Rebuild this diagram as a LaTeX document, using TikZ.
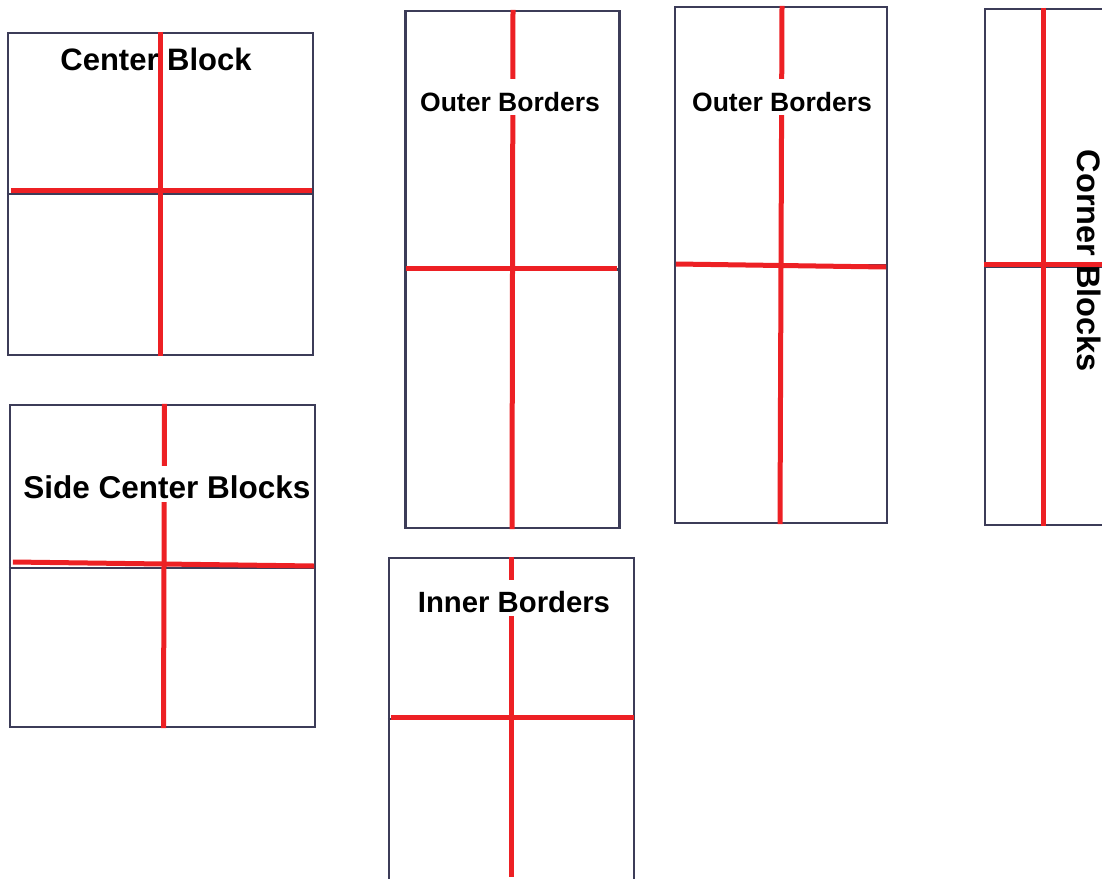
\documentclass[tikz,border=0pt]{standalone}
\usepackage{fontspec}
\setmainfont{Liberation Sans}
\usepackage{xcolor}
\usepackage{tikz}
\usetikzlibrary{positioning}

\definecolor{frame}{HTML}{3C3C58}
\definecolor{cutred}{HTML}{ED2024}

\begin{document}
\begin{tikzpicture}[
    x=1pt, y=-1pt,
    block/.style={draw=frame, line width=2.2pt, inner sep=0pt},
    divider/.style={frame, line width=2.2pt},
    cut/.style={cutred, line width=5pt},
    title/.style={font=\fontsize{#1}{#1}\selectfont\bfseries, anchor=base, inner sep=0pt},
    mask/.style={fill=white, inner xsep=2pt, inner ysep=4pt, text height=28pt, text depth=0pt}
  ]
  \useasboundingbox (0,0) rectangle (1102,878);
  \clip (0,0) rectangle (1102,878);
  \fill[white] (0,0) rectangle (1102,878);

  % Blocks
  \node[block, minimum width=305, minimum height=322] (center) at (160.5,194)   {};
  \node[block, minimum width=305, minimum height=322] (side)   at (162.5,566)   {};
  \node[block, minimum width=214, minimum height=517] (outerA) at (512.5,269.5) {};
  \node[block, minimum width=212, minimum height=516] (outerB) at (781,265)     {};
  \node[block, minimum width=214, minimum height=516] (corner) at (1092,267)    {};
  \node[block, minimum width=245, minimum height=322] (inner)  at (511.5,719)   {};

  % Dividers
  \foreach \b in {center,outerA,outerB,corner,inner}
    \draw[divider] (\b.west) -- (\b.east);
  \draw[divider] ([yshift=-2pt]side.west) -- ([yshift=-2pt]side.east);
  \draw[divider] ([xshift=1pt]side.north) -- ([xshift=1pt]side.south);

  % Cuts
  \draw[cut] (center.north) -- (center.south);
  \draw[cut] ([xshift=4pt,yshift=4pt]center.west) -- ([xshift=-2pt,yshift=4pt]center.east);
  \draw[cut] ([xshift=2pt]side.north) -- ([xshift=1pt]side.south);
  \draw[cut] ([xshift=4pt,yshift=4pt]side.west) -- ([xshift=-2pt]side.east);
  \draw[cut] ([xshift=0.5pt]outerA.north) -- ([xshift=-0.5pt]outerA.south);
  \draw[cut] ([xshift=2pt,yshift=1.5pt]outerA.west) -- ([xshift=-4pt,yshift=1.5pt]outerA.east);
  \draw[cut] ([xshift=1pt]outerB.north) -- ([xshift=-1pt]outerB.south);
  \draw[cut] ([xshift=2pt,yshift=1pt]outerB.west) -- ([xshift=-2pt,yshift=-2pt]outerB.east);
  \draw[cut] ([xshift=60pt]corner.north west) -- ([xshift=60pt]corner.south west);
  \draw[cut] ([yshift=3pt]corner.west) -- ([yshift=3pt]corner.east);
  \draw[cut] (inner.north) -- ([yshift=4pt]inner.south);
  \draw[cut] ([xshift=3pt,yshift=2pt]inner.west) -- ([xshift=-1pt,yshift=2pt]inner.east);

  % Titles
  \node[title=31] (centerT) at (156,70) {Center Block};
  \node[title=31.5, mask] (sideT) at (167,498) {Side Center Blocks};
  \node[title=26.5, mask] (outerAT) at (510,111) {Outer Borders};
  \node[title=26.5, mask] (outerBT) at (782,111) {Outer Borders};
  \node[title=29.3, mask] (innerT) at (514,612) {Inner Borders};
  \node[title=32.5, rotate=-90] (cornerT) at (1077,261) {Corner Blocks};
\end{tikzpicture}
\end{document}
